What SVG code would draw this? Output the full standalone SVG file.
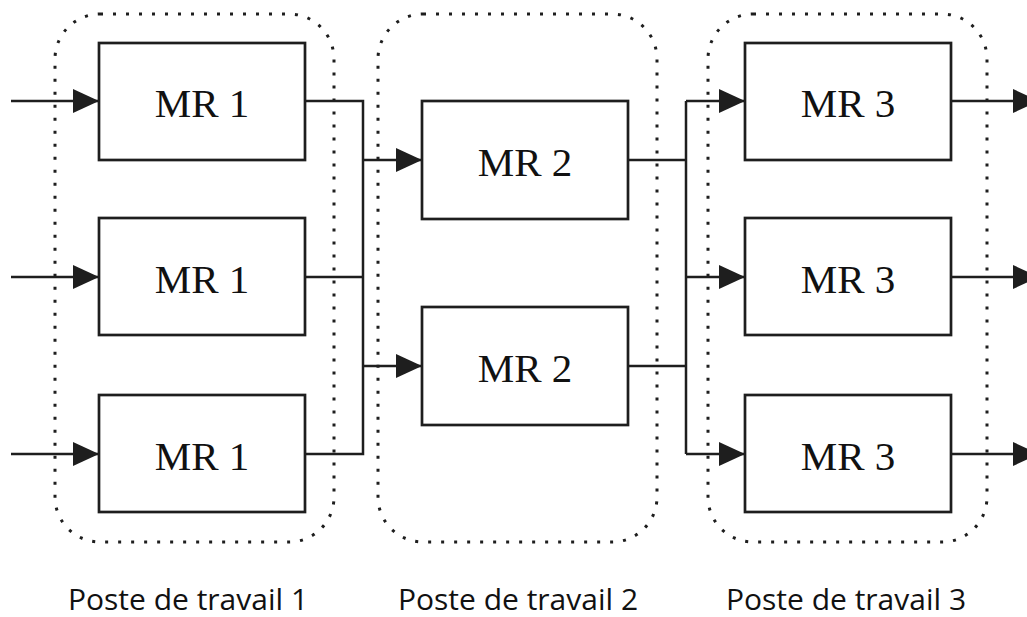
<svg xmlns="http://www.w3.org/2000/svg" width="1027" height="617" viewBox="0 0 1027 617">
<defs>
<marker id="ah" viewBox="0 0 26 24" refX="26" refY="12" markerWidth="26" markerHeight="24" markerUnits="userSpaceOnUse" orient="auto">
<path d="M0,0 L26,12 L0,24 Z" fill="#1e1e1e"/>
</marker>
</defs>
<style>
.box{fill:#fff;stroke:#1e1e1e;stroke-width:2.7}
.mr{font-family:"Liberation Serif",serif;font-size:41px;fill:#111;text-anchor:middle}
.grp{fill:none;stroke:#1e1e1e;stroke-width:3;stroke-dasharray:3 10}
.c{fill:none;stroke:#1e1e1e;stroke-width:2.5}
.lbl{font-family:"Open Sans",sans-serif;font-size:30px;fill:#111;text-anchor:middle}
</style>
<rect width="1027" height="617" fill="#fff"/>
<g id="groups">
<rect class="grp" x="55" y="14" width="279" height="528" rx="45"/>
<rect class="grp" x="378" y="14" width="279" height="528" rx="45"/>
<rect class="grp" x="708" y="14" width="279" height="528" rx="45"/>
</g>
<g id="connectors">
<path class="c" d="M11,101 H99" marker-end="url(#ah)"/>
<path class="c" d="M11,277 H99" marker-end="url(#ah)"/>
<path class="c" d="M11,454 H99" marker-end="url(#ah)"/>
<path class="c" d="M305,101 H363 V454 H305 M305,277 H363"/>
<path class="c" d="M363,160 H422" marker-end="url(#ah)"/>
<path class="c" d="M363,366 H422" marker-end="url(#ah)"/>
<path class="c" d="M628,160 H686 M628,366 H686 M686,101 V454"/>
<path class="c" d="M686,101 H745" marker-end="url(#ah)"/>
<path class="c" d="M686,277 H745" marker-end="url(#ah)"/>
<path class="c" d="M686,454 H745" marker-end="url(#ah)"/>
<path class="c" d="M951,101 H1039" marker-end="url(#ah)"/>
<path class="c" d="M951,277 H1039" marker-end="url(#ah)"/>
<path class="c" d="M951,454 H1039" marker-end="url(#ah)"/>
</g>
<g id="n1a"><rect class="box" x="99" y="43" width="206" height="117"/><text class="mr" x="202" y="117">MR 1</text></g>
<g id="n1b"><rect class="box" x="99" y="218" width="206" height="117"/><text class="mr" x="202" y="293">MR 1</text></g>
<g id="n1c"><rect class="box" x="99" y="395" width="206" height="117"/><text class="mr" x="202" y="470">MR 1</text></g>
<g id="n2a"><rect class="box" x="422" y="101" width="206" height="118"/><text class="mr" x="525" y="176">MR 2</text></g>
<g id="n2b"><rect class="box" x="422" y="307" width="206" height="118"/><text class="mr" x="525" y="382">MR 2</text></g>
<g id="n3a"><rect class="box" x="745" y="43" width="206" height="117"/><text class="mr" x="848" y="117">MR 3</text></g>
<g id="n3b"><rect class="box" x="745" y="218" width="206" height="117"/><text class="mr" x="848" y="293">MR 3</text></g>
<g id="n3c"><rect class="box" x="745" y="395" width="206" height="117"/><text class="mr" x="848" y="470">MR 3</text></g>
<g id="labels">
<text class="lbl" x="188" y="610">Poste de travail 1</text>
<text class="lbl" x="518" y="610">Poste de travail 2</text>
<text class="lbl" x="846" y="610">Poste de travail 3</text>
</g>
</svg>
